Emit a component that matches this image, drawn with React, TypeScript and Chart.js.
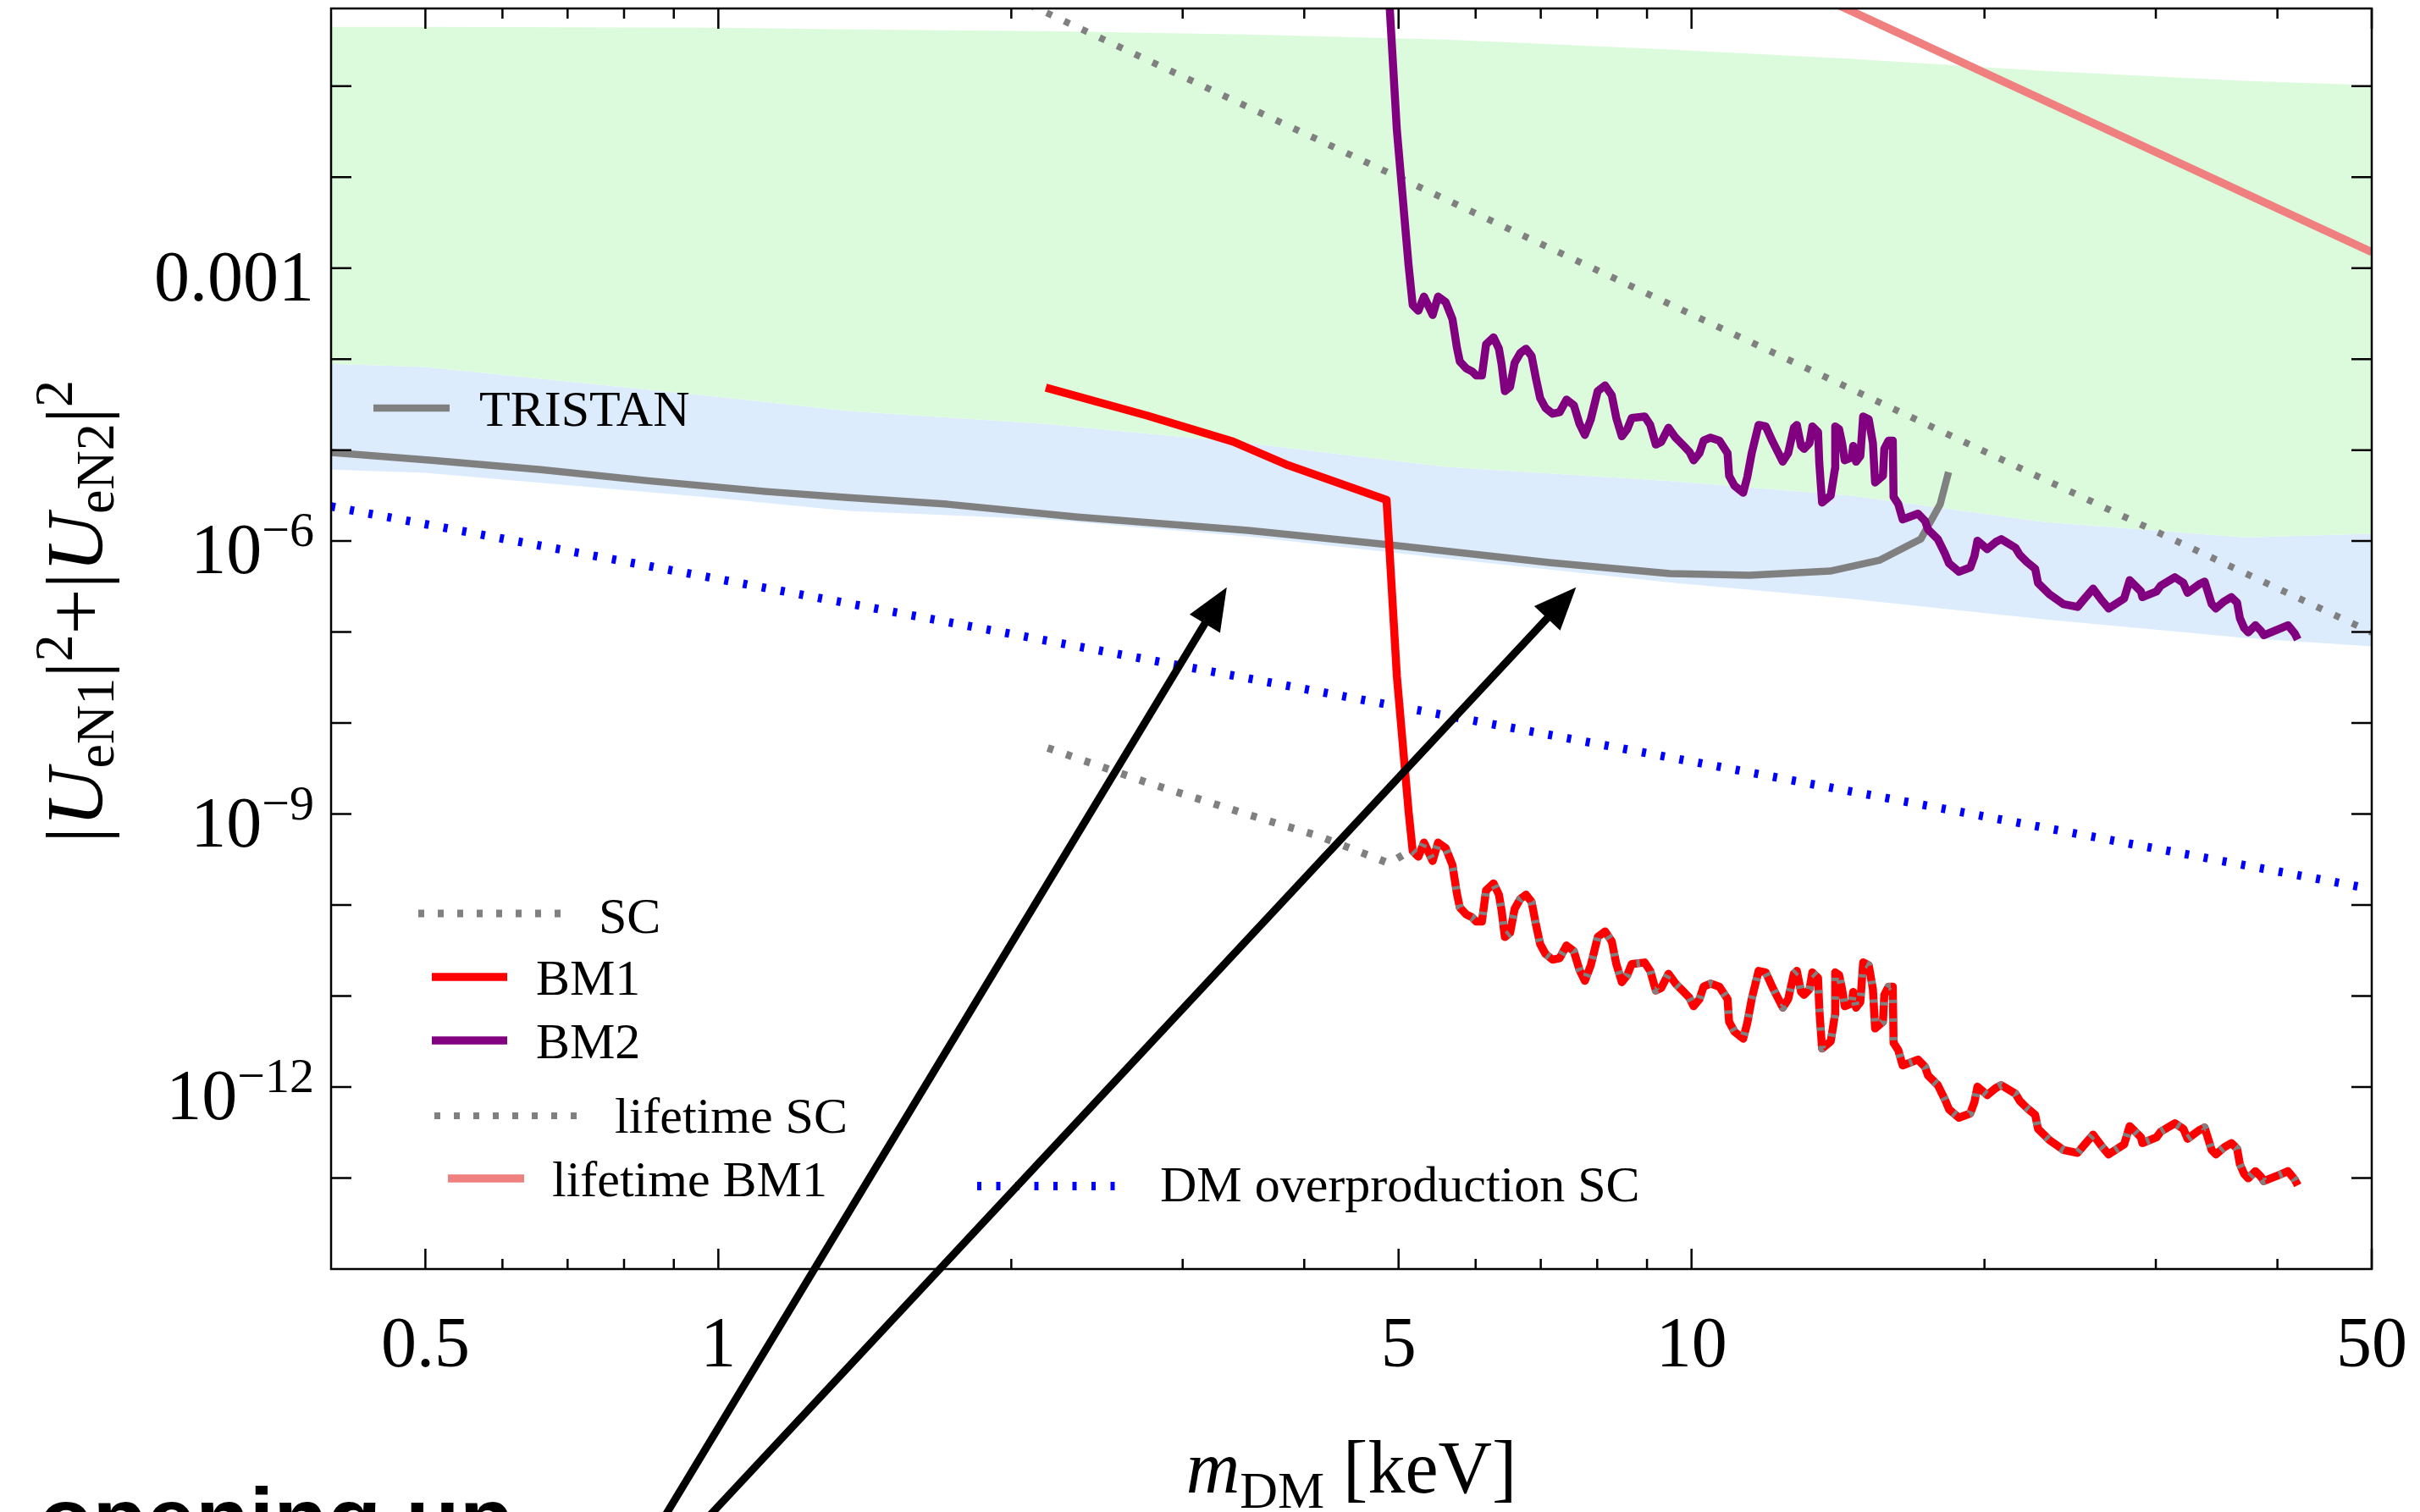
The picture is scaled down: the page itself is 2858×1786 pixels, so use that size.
import { useEffect, useRef } from 'react';
import { Chart, registerables } from 'chart.js';

Chart.register(...registerables);

const CANVAS_W = 2858;
const CANVAS_H = 1786;
const SERIF = '"Liberation Serif", "Times New Roman", serif';
const SANS = '"Liberation Sans", Arial, sans-serif';

// ---------------- axes ----------------
const massMin = 0.4;
const massMax = 50;
const mixMin = 1e-14;
const mixMax = 0.713;
const xMajorTicks = [0.5, 1, 5, 10, 50];
const xMajorLabels = ['0.5', '1', '5', '10', '50'];
const xMinorTicks = [0.6, 0.7, 0.8, 0.9, 2, 3, 4, 6, 7, 8, 9, 20, 30, 40];
const yTicks = [1e-13, 1e-12, 1e-11, 1e-10, 1e-9, 1e-8, 1e-7, 1e-6, 1e-5, 1e-4, 1e-3, 1e-2, 1e-1];
const yLabelValues = [1e-3, 1e-6, 1e-9, 1e-12];
const yLabelMantissa = ['0.001', '10', '10', '10'];
const yLabelExponent = ['', '\u22126', '\u22129', '\u221212'];
const xTitleMain = 'm';
const xTitleSub = 'DM';
const xTitleUnit = ' [keV]';

// ---------------- scan bands (parameter-scan points) ----------------
const bandMass = [0.4, 0.5, 1.0, 1.36, 2.17, 3.5, 5.6, 9.6, 14.6, 23, 37, 50];
const bandGreenTop = [0.448, 0.448, 0.438, 0.42, 0.402, 0.369, 0.325, 0.251, 0.199, 0.147, 0.114, 0.102];
const bandGreenBlue = [8.89e-5, 8.17e-5, 3.85e-5, 2.68e-5, 1.94e-5, 1.19e-5, 6.52e-6, 4.53e-6, 3.15e-6, 1.62e-6, 1.1e-6, 1.2e-6];
const bandBlueBottom = [6.11e-6, 5.61e-6, 2.95e-6, 2.14e-6, 1.73e-6, 1.12e-6, 6.44e-7, 3.47e-7, 2.31e-7, 1.38e-7, 8.61e-8, 6.95e-8];

// ---------------- TRISTAN ----------------
const tristanMass = [0.40, 0.508, 0.657, 0.847, 1.12, 1.36, 1.72, 2.34, 3.50, 4.89, 7.14, 9.50, 11.47, 13.88, 15.62, 17.20, 18.01, 18.37];
const tristanU2 = [9.4e-6, 7.7e-6, 6.1e-6, 4.6e-6, 3.5e-6, 3.0e-6, 2.54e-6, 1.84e-6, 1.31e-6, 9.1e-7, 5.8e-7, 4.39e-7, 4.2e-7, 4.68e-7, 6.18e-7, 1.05e-6, 2.54e-6, 5.73e-6];

// ---------------- BM1 / BM2 / SC ----------------
const bm1HeadMass = [2.17, 2.76, 3.38, 3.85, 4.86, 4.98, 5.12];
const bm1HeadU2 = [4.86e-5, 2.39e-5, 1.24e-5, 6.81e-6, 2.84e-6, 3.28e-8, 1.07e-9];
const bm2HeadMass = [4.86, 4.98, 5.12];
const bm2HeadU2 = [2.84, 3.28e-2, 1.07e-3];
const scHeadMass = [2.18, 2.76, 3.50, 4.14, 4.89, 5.11];
const scHeadU2 = [5.32e-9, 2.21e-9, 9.88e-10, 5.73e-10, 2.88e-10, 3.81e-10];

const wiggleMass = [
  5.17, 5.24, 5.31, 5.42, 5.49, 5.59, 5.68, 5.74, 5.78, 5.87,
  5.95, 6.01, 6.09, 6.15, 6.26, 6.34, 6.38, 6.43, 6.51, 6.58,
  6.67, 6.76, 6.85, 6.92, 6.99, 7.08, 7.20, 7.32, 7.44, 7.57,
  7.67, 7.77, 7.88, 8.01, 8.15, 8.28, 8.37, 8.48, 8.59, 8.68,
  8.95, 9.07, 9.19, 9.31, 9.47, 9.63, 9.82, 9.95, 10.05, 10.19,
  10.29, 10.46, 10.68, 10.89, 10.93, 11.07, 11.30, 11.41, 11.53, 11.72,
  11.92, 12.12, 12.41, 12.57, 12.74, 12.83, 12.96, 13.05, 13.22, 13.31,
  13.49, 13.53, 13.62, 13.90, 13.99, 14.04, 14.05, 14.18, 14.28, 14.37,
  14.61, 14.66, 14.76, 14.91, 15.01, 15.21, 15.36, 15.44, 15.73, 15.78,
  15.94, 16.10, 16.13, 16.31, 16.48, 17.09, 17.38, 17.50, 17.91, 18.21,
  18.39, 18.83, 19.34, 19.53, 19.67, 20.13, 20.54, 20.81, 21.52, 21.74,
  22.10, 22.55, 22.70, 23.32, 24.11, 24.93, 25.35, 25.86, 26.38, 26.83,
  27.83, 28.20, 28.96, 29.06, 30.05, 30.35, 31.38, 32.02, 32.34, 33.22,
  33.67, 34.24, 34.58, 35.28, 35.87, 36.36, 36.60, 36.97, 37.34, 37.97,
  38.48, 38.73, 40.32, 41.01, 41.69, 41.97,
];
const bm1WiggleU2 = [
  3.92e-10, 3.40e-10, 4.86e-10, 3.05e-10, 4.86e-10, 4.22e-10, 2.75e-10, 1.34e-10, 9.4e-11, 7.87e-11,
  7.33e-11, 6.59e-11, 6.59e-11, 1.45e-10, 1.73e-10, 1.30e-10, 8.77e-11, 4.45e-11, 4.95e-11, 9.08e-11,
  1.17e-10, 1.30e-10, 1.08e-10, 6.14e-11, 3.72e-11, 2.90e-11, 2.51e-11, 2.61e-11, 3.59e-11, 3.11e-11,
  1.95e-11, 1.47e-11, 2.18e-11, 4.45e-11, 5.13e-11, 4.00e-11, 2.25e-11, 1.42e-11, 1.70e-11, 2.25e-11,
  2.34e-11, 1.89e-11, 1.15e-11, 1.23e-11, 1.76e-11, 1.37e-11, 1.11e-11, 9.57e-12, 7.73e-12, 9.25e-12,
  1.27e-11, 1.37e-11, 1.27e-11, 9.25e-12, 5.22e-12, 4.06e-12, 3.40e-12, 5.04e-12, 9.25e-12, 1.89e-11,
  1.82e-11, 1.23e-11, 7.46e-12, 9.25e-12, 1.76e-11, 1.89e-11, 1.11e-11, 1.03e-11, 1.19e-11, 1.82e-11,
  1.58e-11, 7.21e-12, 2.65e-12, 3.17e-12, 4.86e-12, 6.23e-12, 1.82e-11, 1.70e-11, 1.19e-11, 7.73e-12,
  8.30e-12, 1.11e-11, 7.46e-12, 8.61e-12, 2.34e-11, 2.18e-11, 1.19e-11, 4.40e-12, 5.22e-12, 1.03e-11,
  1.27e-11, 1.27e-11, 3.06e-12, 2.55e-12, 1.73e-12, 2.00e-12, 1.66e-12, 1.34e-12, 1.05e-12, 7.33e-13,
  5.70e-13, 4.60e-13, 5.13e-13, 6.82e-13, 1.01e-12, 8.17e-13, 9.75e-13, 1.05e-12, 8.45e-13, 7.06e-13,
  5.92e-13, 4.95e-13, 3.47e-13, 2.61e-13, 2.03e-13, 1.89e-13, 2.34e-13, 3.00e-13, 2.25e-13, 1.82e-13,
  2.34e-13, 3.72e-13, 2.80e-13, 2.42e-13, 2.80e-13, 3.23e-13, 4.00e-13, 3.47e-13, 2.70e-13, 3.34e-13,
  3.59e-13, 2.03e-13, 1.82e-13, 2.18e-13, 2.42e-13, 2.10e-13, 1.42e-13, 1.11e-13, 9.93e-14, 1.19e-13,
  1.03e-13, 9.24e-14, 1.10e-13, 1.19e-13, 9.58e-14, 8.30e-14,
];
const bm2WiggleU2 = [
  3.92e-4, 3.40e-4, 4.86e-4, 3.05e-4, 4.86e-4, 4.22e-4, 2.75e-4, 1.34e-4, 9.4e-5, 7.87e-5,
  7.33e-5, 6.59e-5, 6.59e-5, 1.45e-4, 1.73e-4, 1.30e-4, 8.77e-5, 4.45e-5, 4.95e-5, 9.08e-5,
  1.17e-4, 1.30e-4, 1.08e-4, 6.14e-5, 3.72e-5, 2.90e-5, 2.51e-5, 2.61e-5, 3.59e-5, 3.11e-5,
  1.95e-5, 1.47e-5, 2.18e-5, 4.45e-5, 5.13e-5, 4.00e-5, 2.25e-5, 1.42e-5, 1.70e-5, 2.25e-5,
  2.34e-5, 1.89e-5, 1.15e-5, 1.23e-5, 1.76e-5, 1.37e-5, 1.11e-5, 9.57e-6, 7.73e-6, 9.25e-6,
  1.27e-5, 1.37e-5, 1.27e-5, 9.25e-6, 5.22e-6, 4.06e-6, 3.40e-6, 5.04e-6, 9.25e-6, 1.89e-5,
  1.82e-5, 1.23e-5, 7.46e-6, 9.25e-6, 1.76e-5, 1.89e-5, 1.11e-5, 1.03e-5, 1.19e-5, 1.82e-5,
  1.58e-5, 7.21e-6, 2.65e-6, 3.17e-6, 4.86e-6, 6.23e-6, 1.82e-5, 1.70e-5, 1.19e-5, 7.73e-6,
  8.30e-6, 1.11e-5, 7.46e-6, 8.61e-6, 2.34e-5, 2.18e-5, 1.19e-5, 4.40e-6, 5.22e-6, 1.03e-5,
  1.27e-5, 1.27e-5, 3.06e-6, 2.55e-6, 1.73e-6, 2.00e-6, 1.66e-6, 1.34e-6, 1.05e-6, 7.33e-7,
  5.70e-7, 4.60e-7, 5.13e-7, 6.82e-7, 1.01e-6, 8.17e-7, 9.75e-7, 1.05e-6, 8.45e-7, 7.06e-7,
  5.92e-7, 4.95e-7, 3.47e-7, 2.61e-7, 2.03e-7, 1.89e-7, 2.34e-7, 3.00e-7, 2.25e-7, 1.82e-7,
  2.34e-7, 3.72e-7, 2.80e-7, 2.42e-7, 2.80e-7, 3.23e-7, 4.00e-7, 3.47e-7, 2.70e-7, 3.34e-7,
  3.59e-7, 2.03e-7, 1.82e-7, 2.18e-7, 2.42e-7, 2.10e-7, 1.42e-7, 1.11e-7, 9.93e-8, 1.19e-7,
  1.03e-7, 9.24e-8, 1.10e-7, 1.19e-7, 9.58e-8, 8.30e-8,
];

// ---------------- straight bounds ----------------
const lifetimeSCMass = [2, 50];
const lifetimeSCU2 = [0.97, 9.9e-8];
const lifetimeBM1Mass = [14, 50];
const lifetimeBM1U2 = [0.82, 1.5e-3];
const dmOverMass = [0.4, 50];
const dmOverU2 = [2.4e-6, 1.5e-10];

// ---------------- annotation arrows (tail -> tip, data coords) ----------------
const arrowTailMass = [0.842, 0.912];
const arrowTailU2 = [8.6e-18, 8.6e-18];
const arrowTipMass = [3.33, 7.61];
const arrowTipU2 = [3.1e-7, 3.1e-7];
const annotationText = 'opening up';

// ---------------- labels & styles ----------------
const seriesLabels: Record<string, string> = {
  tristan: 'TRISTAN', sc: 'SC', bm1: 'BM1', bm2: 'BM2',
  lifeSC: 'lifetime SC', lifeBM1: 'lifetime BM1', dm: 'DM overproduction SC',
};
const GRAY = '#808080';
const seriesStyle: Record<string, { color: string; width: number; dash: number[] }> = {
  tristan: { color: GRAY, width: 8.5, dash: [] },
  sc: { color: GRAY, width: 9, dash: [7, 16] },
  bm1: { color: '#ff0000', width: 9.5, dash: [] },
  bm2: { color: '#800080', width: 9.5, dash: [] },
  lifeSC: { color: GRAY, width: 8, dash: [7, 16] },
  lifeBM1: { color: '#f08080', width: 9.5, dash: [] },
  dm: { color: '#0000ff', width: 10, dash: [5, 17.5] },
};
const GREEN_FILL = '#dcfbdc';
const BLUE_FILL = '#dcecfd';

const legendLayout = [
  { key: 'tristan', x0: 441, x1: 531, y: 482, tx: 566, ty: 503 },
  { key: 'sc', x0: 494, x1: 663, y: 1079, tx: 707, ty: 1102 },
  { key: 'bm1', x0: 510, x1: 599, y: 1154, tx: 633, ty: 1175 },
  { key: 'bm2', x0: 510, x1: 599, y: 1229, tx: 633, ty: 1250 },
  { key: 'lifeSC', x0: 513, x1: 682, y: 1318, tx: 726, ty: 1338 },
  { key: 'lifeBM1', x0: 529, x1: 619, y: 1392, tx: 652, ty: 1413 },
  { key: 'dm', x0: 1154, x1: 1326, y: 1401, tx: 1370, ty: 1419 },
];

const pts = (xs: number[], ys: number[]) => xs.map((x, i) => ({ x, y: ys[i] }));

type Part = { t: string; f: string; dy?: number };
function drawRich(ctx: CanvasRenderingContext2D, parts: Part[], x: number, y: number, align: 'left' | 'center' | 'right') {
  ctx.textAlign = 'left';
  ctx.textBaseline = 'alphabetic';
  const widths = parts.map((p) => { ctx.font = p.f; return ctx.measureText(p.t).width; });
  const total = widths.reduce((a, b) => a + b, 0);
  let cx = align === 'center' ? x - total / 2 : align === 'right' ? x - total : x;
  parts.forEach((p, i) => {
    ctx.font = p.f;
    ctx.fillText(p.t, cx, y + (p.dy || 0));
    cx += widths[i];
  });
}

function drawArrow(ctx: CanvasRenderingContext2D, x0: number, y0: number, x1: number, y1: number) {
  const dx = x1 - x0, dy = y1 - y0;
  const len = Math.hypot(dx, dy);
  const ux = dx / len, uy = dy / len;
  const headL = 50, headW = 21;
  const bx = x1 - ux * headL, by = y1 - uy * headL;
  ctx.beginPath();
  ctx.moveTo(x0, y0);
  ctx.lineTo(bx + ux * 4, by + uy * 4);
  ctx.lineWidth = 9;
  ctx.lineCap = 'butt';
  ctx.setLineDash([]);
  ctx.strokeStyle = '#000';
  ctx.stroke();
  ctx.beginPath();
  ctx.moveTo(x1, y1);
  ctx.lineTo(bx - uy * headW, by + ux * headW);
  ctx.lineTo(bx + uy * headW, by - ux * headW);
  ctx.closePath();
  ctx.fillStyle = '#000';
  ctx.fill();
}

const decorPlugin = {
  id: 'decor',
  afterDatasetsDraw(chart: any) {
    const ctx: CanvasRenderingContext2D = chart.ctx;
    const a = chart.chartArea;
    const xs = chart.scales.x;
    const ys = chart.scales.y;
    ctx.save();
    ctx.setLineDash([]);
    ctx.strokeStyle = '#000';
    ctx.fillStyle = '#000';

    // ticks (inward, all four sides)
    ctx.lineWidth = 2.5;
    ctx.beginPath();
    const majorLen = 24, minorLen = 12;
    xMajorTicks.forEach((v) => {
      const px = xs.getPixelForValue(v);
      ctx.moveTo(px, a.bottom); ctx.lineTo(px, a.bottom - majorLen);
      ctx.moveTo(px, a.top); ctx.lineTo(px, a.top + majorLen);
    });
    xMinorTicks.forEach((v) => {
      const px = xs.getPixelForValue(v);
      ctx.moveTo(px, a.bottom); ctx.lineTo(px, a.bottom - minorLen);
      ctx.moveTo(px, a.top); ctx.lineTo(px, a.top + minorLen);
    });
    yTicks.forEach((v) => {
      const py = ys.getPixelForValue(v);
      ctx.moveTo(a.left, py); ctx.lineTo(a.left + majorLen, py);
      ctx.moveTo(a.right, py); ctx.lineTo(a.right - majorLen, py);
    });
    ctx.stroke();

    // frame
    ctx.lineWidth = 2.5;
    ctx.strokeRect(a.left, a.top, a.right - a.left, a.bottom - a.top);

    // x tick labels
    ctx.font = `84px ${SERIF}`;
    ctx.textAlign = 'center';
    ctx.textBaseline = 'alphabetic';
    xMajorTicks.forEach((v, i) => {
      ctx.fillText(xMajorLabels[i], xs.getPixelForValue(v), a.bottom + 115);
    });

    // y tick labels
    yLabelValues.forEach((v, i) => {
      const py = ys.getPixelForValue(v);
      const parts: Part[] = [{ t: yLabelMantissa[i], f: `84px ${SERIF}` }];
      if (yLabelExponent[i]) parts.push({ t: yLabelExponent[i], f: `58px ${SERIF}`, dy: -32 });
      drawRich(ctx, parts, a.left - 20, py + 38, 'right');
    });

    // x title
    drawRich(ctx, [
      { t: xTitleMain, f: `italic 88px ${SERIF}` },
      { t: xTitleSub, f: `62px ${SERIF}`, dy: 18 },
      { t: xTitleUnit, f: `88px ${SERIF}` },
    ], (a.left + a.right) / 2, a.bottom + 264, 'center');

    // y title (rotated)
    ctx.save();
    ctx.translate(a.left - 270, (a.top + a.bottom) / 2 - 32);
    ctx.rotate(-Math.PI / 2);
    const main = `96px ${SERIF}`;
    const mainIt = `italic 96px ${SERIF}`;
    const script = `64px ${SERIF}`;
    drawRich(ctx, [
      { t: '|', f: main }, { t: 'U', f: mainIt }, { t: 'eN1', f: script, dy: 13 }, { t: '|', f: main },
      { t: '2', f: script, dy: -36 }, { t: '+', f: main },
      { t: '|', f: main }, { t: 'U', f: mainIt }, { t: 'eN2', f: script, dy: 13 }, { t: '|', f: main },
      { t: '2', f: script, dy: -36 },
    ], 0, 0, 'center');
    ctx.restore();

    // legend
    legendLayout.forEach((it) => {
      const st = seriesStyle[it.key];
      ctx.beginPath();
      ctx.setLineDash(st.dash);
      ctx.lineCap = 'butt';
      ctx.strokeStyle = st.color;
      ctx.lineWidth = st.width;
      ctx.moveTo(it.x0, it.y);
      ctx.lineTo(it.x1, it.y);
      ctx.stroke();
      ctx.setLineDash([]);
      ctx.font = `60px ${SERIF}`;
      ctx.fillStyle = '#000';
      ctx.textAlign = 'left';
      ctx.fillText(seriesLabels[it.key], it.tx, it.ty);
    });

    // arrows
    arrowTipMass.forEach((m, i) => {
      drawArrow(ctx,
        xs.getPixelForValue(arrowTailMass[i]), ys.getPixelForValue(arrowTailU2[i]),
        xs.getPixelForValue(m), ys.getPixelForValue(arrowTipU2[i]));
    });

    // annotation text (cut at the bottom edge)
    ctx.font = `bold 104px ${SANS}`;
    ctx.fillStyle = '#000';
    ctx.textAlign = 'left';
    ctx.fillText(annotationText, 46, 1830);
    ctx.restore();
  },
};

function lineDs(key: string, data: any[], order: number, extra: any = {}) {
  const st = seriesStyle[key];
  return {
    label: seriesLabels[key],
    data,
    showLine: true,
    borderColor: st.color,
    backgroundColor: st.color,
    borderWidth: st.width,
    borderDash: st.dash,
    borderCapStyle: 'butt',
    borderJoinStyle: 'round',
    pointRadius: 0,
    pointHoverRadius: 0,
    tension: 0,
    fill: false,
    order,
    ...extra,
  };
}

export default function App() {
  const ref = useRef<HTMLCanvasElement>(null);
  useEffect(() => {
    const canvas = ref.current;
    if (!canvas) return;
    const datasets: any[] = [
      lineDs('sc', pts([...scHeadMass, ...wiggleMass], [...scHeadU2, ...bm1WiggleU2]), 1, {
        segment: {
          borderDash: (c: any) => (c.p0DataIndex >= scHeadMass.length ? [4, 18] : undefined),
        },
      }),
      lineDs('bm1', pts([...bm1HeadMass, ...wiggleMass], [...bm1HeadU2, ...bm1WiggleU2]), 2),
      lineDs('bm2', pts([...bm2HeadMass, ...wiggleMass], [...bm2HeadU2, ...bm2WiggleU2]), 3),
      lineDs('lifeSC', pts(lifetimeSCMass, lifetimeSCU2), 4),
      lineDs('lifeBM1', pts(lifetimeBM1Mass, lifetimeBM1U2), 5),
      lineDs('dm', pts(dmOverMass, dmOverU2), 6),
      lineDs('tristan', pts(tristanMass, tristanU2), 7),
      {
        label: 'scan green', data: pts(bandMass, bandGreenTop), showLine: true,
        borderWidth: 0, borderColor: 'rgba(0,0,0,0)', backgroundColor: GREEN_FILL,
        pointRadius: 0, fill: '+1', order: 8,
      },
      {
        label: 'scan blue', data: pts(bandMass, bandGreenBlue), showLine: true,
        borderWidth: 0, borderColor: 'rgba(0,0,0,0)', backgroundColor: BLUE_FILL,
        pointRadius: 0, fill: '+1', order: 9,
      },
      {
        label: 'scan bottom', data: pts(bandMass, bandBlueBottom), showLine: true,
        borderWidth: 0, borderColor: 'rgba(0,0,0,0)', backgroundColor: BLUE_FILL,
        pointRadius: 0, fill: false, order: 10,
      },
    ];
    const chart = new Chart(canvas, {
      type: 'scatter',
      data: { datasets },
      options: {
        animation: false,
        responsive: false,
        maintainAspectRatio: false,
        devicePixelRatio: 1,
        events: [],
        layout: { padding: { left: 391, right: CANVAS_W - 2801, top: 10, bottom: CANVAS_H - 1499 } },
        scales: {
          x: { type: 'logarithmic', min: massMin, max: massMax, display: false, bounds: 'data' },
          y: { type: 'logarithmic', min: mixMin, max: mixMax, display: false, bounds: 'data' },
        },
        plugins: { legend: { display: false }, tooltip: { enabled: false }, title: { display: false } },
      } as any,
      plugins: [decorPlugin],
    });
    return () => chart.destroy();
  }, []);
  return (
    <div style={{ position: 'absolute', left: 0, top: 0, width: CANVAS_W, height: CANVAS_H, background: '#fff', overflow: 'hidden' }}>
      <canvas ref={ref} width={CANVAS_W} height={CANVAS_H} style={{ display: 'block', width: CANVAS_W, height: CANVAS_H }} />
    </div>
  );
}
